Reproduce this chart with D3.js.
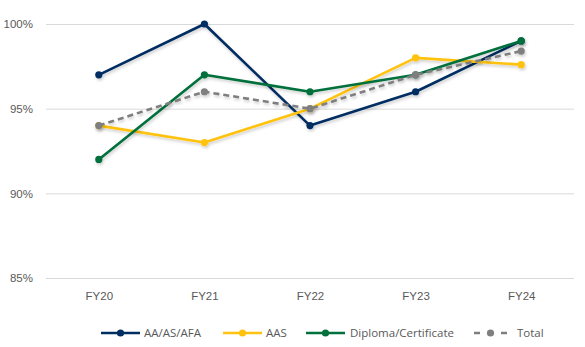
<!DOCTYPE html>
<html>
<head>
<meta charset="utf-8">
<script src="https://cdn.jsdelivr.net/npm/d3@7"></script>
<style>
    body { margin: 0; background: #fff; }
    svg { font-family: "Open Sans", "Liberation Sans", sans-serif; }
</style>
</head>
<body>
<div id="chartdiv"></div>
<script>
// data
let years = ["FY20", "FY21", "FY22", "FY23", "FY24"],
    aa = [97, 100, 94, 96, 99],
    aas = [94, 93, 95, 98, 97.6],
    diploma = [92, 97, 96, 97, 99],
    total = [94, 96, 95, 97, 98.4],
    yTicks = [85, 90, 95, 100];

let series = [
    { name: "AA/AS/AFA", values: aa, color: "#002d62", dash: null },
    { name: "AAS", values: aas, color: "#ffc20e", dash: null },
    { name: "Diploma/Certificate", values: diploma, color: "#00703c", dash: null },
    { name: "Total", values: total, color: "#7f7f7f", dash: "6,4" }
];

// draw
{
    let width = 585,
        height = 347,
        margin = { top: 24, right: 11, bottom: 69, left: 46 };

    let x = d3.scalePoint()
        .domain(years)
        .range([margin.left, width - margin.right])
        .padding(0.5);
    let y = d3.scaleLinear()
        .domain([85, 100])
        .range([height - margin.bottom, margin.top]);

    let svg = d3.select("#chartdiv").append("svg")
        .attr("width", width)
        .attr("height", height);

    // soft shadow under the lines
    let defs = svg.append("defs");
    let filter = defs.append("filter")
        .attr("id", "shadow")
        .attr("x", "-10%").attr("y", "-10%")
        .attr("width", "130%").attr("height", "140%");
    filter.append("feDropShadow")
        .attr("dx", 1).attr("dy", 2)
        .attr("stdDeviation", 1.5)
        .attr("flood-color", "#000")
        .attr("flood-opacity", 0.2);

    // grid + y axis
    let yAxis = d3.axisLeft(y)
        .tickValues(yTicks)
        .tickSize(-(width - margin.left - margin.right))
        .tickPadding(13)
        .tickFormat(d => d + "%");
    let gy = svg.append("g")
        .attr("transform", "translate(" + margin.left + ",0)")
        .call(yAxis);
    gy.select(".domain").remove();
    gy.selectAll(".tick line").attr("stroke", "#d9d9d9");
    gy.selectAll(".tick text")
        .attr("fill", "#595959")
        .attr("font-size", 11.5);

    // x axis
    let xAxis = d3.axisBottom(x).tickSize(0).tickPadding(14);
    let gx = svg.append("g")
        .attr("transform", "translate(0," + (height - margin.bottom) + ")")
        .call(xAxis);
    gx.select(".domain").remove();
    gx.selectAll(".tick text")
        .attr("fill", "#595959")
        .attr("font-size", 11.5);

    // lines
    let line = d3.line()
        .x((d, i) => x(years[i]))
        .y(d => y(d));

    let groups = svg.selectAll(".series")
        .data(series)
        .enter()
        .append("g")
        .attr("class", "series")
        .attr("filter", "url(#shadow)");
    groups.append("path")
        .attr("d", d => line(d.values))
        .attr("fill", "none")
        .attr("stroke", d => d.color)
        .attr("stroke-width", 2.6)
        .attr("stroke-linejoin", "round")
        .attr("stroke-dasharray", d => d.dash);
    groups.selectAll("circle")
        .data(d => d.values.map(v => ({ v: v, color: d.color })))
        .enter()
        .append("circle")
        .attr("cx", (d, i) => x(years[i]))
        .attr("cy", d => y(d.v))
        .attr("r", 3.6)
        .attr("fill", d => d.color);

    // legend
    let legendY = 333,
        legendX = [101, 223, 306, 474],
        textX = [144, 266, 350, 517],
        legendLen = [39, 39, 39, 33];
    let lg = svg.selectAll(".legend")
        .data(series)
        .enter()
        .append("g")
        .attr("class", "legend");
    lg.append("line")
        .attr("x1", (d, i) => legendX[i])
        .attr("x2", (d, i) => legendX[i] + legendLen[i])
        .attr("y1", legendY)
        .attr("y2", legendY)
        .attr("stroke", d => d.color)
        .attr("stroke-width", 2.6)
        .attr("stroke-dasharray", d => d.dash ? "6,21" : null);
    lg.append("circle")
        .attr("cx", (d, i) => legendX[i] + legendLen[i] / 2)
        .attr("cy", legendY)
        .attr("r", 3.6)
        .attr("fill", d => d.color);
    lg.append("text")
        .attr("x", (d, i) => textX[i])
        .attr("y", legendY)
        .attr("dy", "0.35em")
        .attr("fill", "#595959")
        .attr("font-size", 11.5)
        .text(d => d.name);
}
</script>
</body>
</html>
